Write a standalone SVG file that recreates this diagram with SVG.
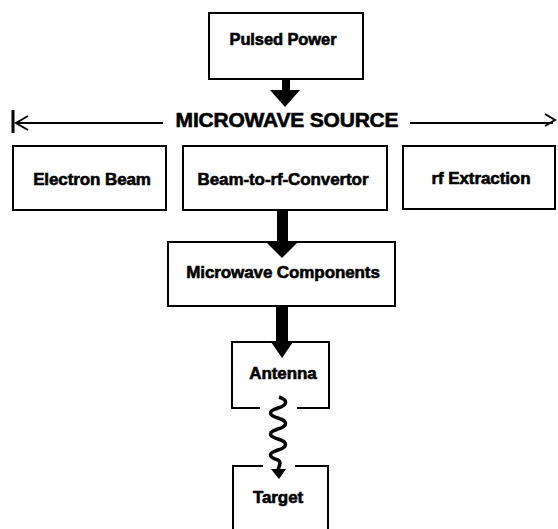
<svg xmlns="http://www.w3.org/2000/svg" width="558" height="529" viewBox="0 0 558 529">
<style>
.box{fill:#fff;stroke:#000;stroke-width:2}
.t{font-family:"Liberation Sans",Arial,sans-serif;font-weight:bold;font-size:17px;fill:#000;stroke:#000;stroke-width:0.6;text-anchor:middle;letter-spacing:-0.1px}
.ln{stroke:#000;stroke-width:2;fill:none}
.arr{fill:#000}
</style>
<rect width="558" height="529" fill="#fff"/>
<g id="pulsed-power">
<rect class="box" x="209" y="13" width="154" height="66"/>
<text class="t" x="283" y="45" style="font-size:16.5px">Pulsed Power</text>
</g>
<g id="microwave-source">
<text class="t" x="287" y="127" style="font-size:21px;letter-spacing:-0.2px">MICROWAVE SOURCE</text>
</g>
<g id="electron-beam">
<rect class="box" x="13" y="146" width="153" height="64"/>
<text class="t" x="92" y="185">Electron Beam</text>
</g>
<g id="beam-to-rf">
<rect class="box" x="183" y="146" width="204" height="64"/>
<text class="t" x="283" y="185">Beam-to-rf-Convertor</text>
</g>
<g id="rf-extraction">
<rect class="box" x="403" y="146" width="152" height="63"/>
<text class="t" x="481" y="184">rf Extraction</text>
</g>
<g id="microwave-components">
<rect class="box" x="168" y="242" width="227" height="64"/>
<text class="t" x="283" y="278">Microwave Components</text>
</g>
<g id="antenna">
<path class="ln" d="M260,408 H232 V342 H329 V408 H297"/>
<text class="t" x="283" y="379">Antenna</text>
</g>
<g id="target">
<path class="ln" d="M263,466 H233 V529 M295,466 H328 V529"/>
<text class="t" x="278" y="503">Target</text>
</g>
<g id="connectors">
<rect class="arr" x="282" y="78" width="8" height="13"/>
<polygon class="arr" points="270,90 300,90 285,107"/>
<path d="M13,110 V133" stroke="#000" stroke-width="3"/>
<path class="ln" d="M28,116 L16,123 L28,130"/>
<path class="ln" d="M16,123 H163"/>
<path class="ln" d="M410,123 H553"/>
<path class="ln" d="M545,114 L555,120 L545,126"/>
<rect class="arr" x="277" y="210" width="11" height="34"/>
<polygon class="arr" points="267,243 297,243 282,258"/>
<rect class="arr" x="276" y="306" width="12" height="37"/>
<polygon class="arr" points="271,342 293,342 282,358"/>
<path d="M279,397 C288,400 288,405 278,408 C268,411 268,415 278,418 C288,421 288,426 278,429 C268,432 268,436 278,439 C288,442 288,447 278,450 C268,453 268,457 278,460 C282,462 279,466 278,470" stroke="#000" stroke-width="3.5" fill="none"/>
<polygon class="arr" points="271,469 286,469 279,479"/>
</g>
</svg>
